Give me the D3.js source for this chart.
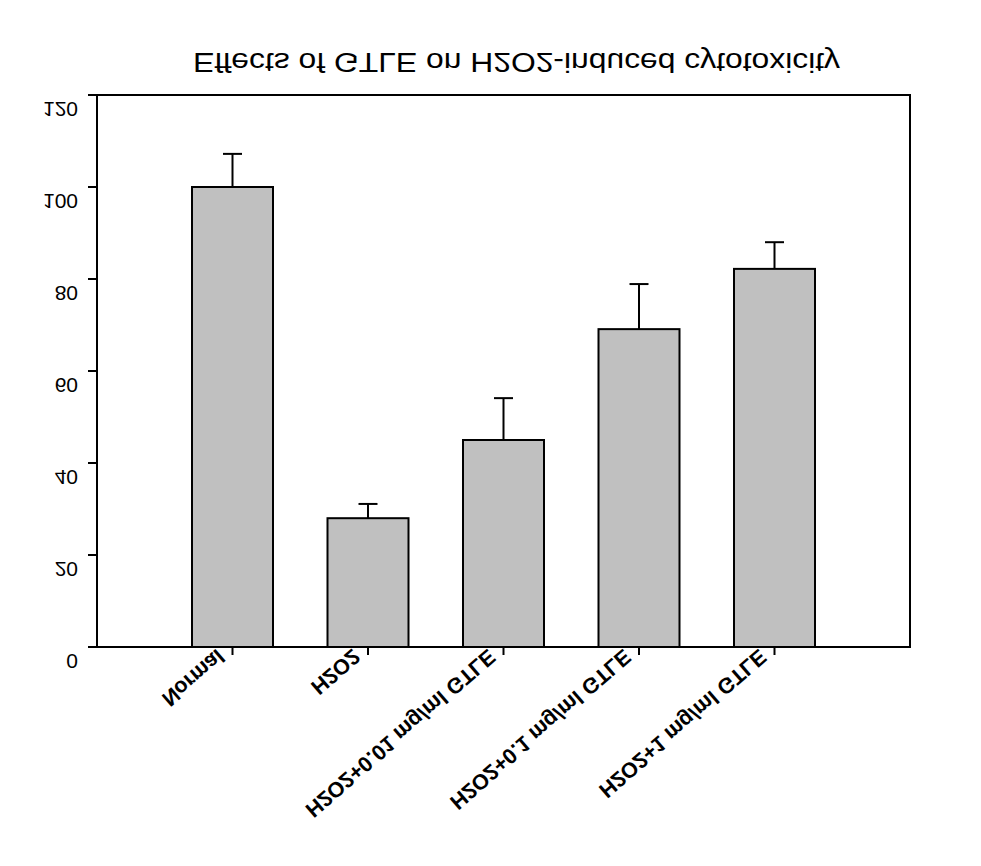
<!DOCTYPE html>
<html><head><meta charset="utf-8">
<script src="https://cdn.jsdelivr.net/npm/d3@7"></script>
<style>body{margin:0;background:#fff}</style>
</head><body>
<script>
const categories = ["Normal","H2O2","H2O2+0.01 mg/ml GTLE","H2O2+0.1 mg/ml GTLE","H2O2+1 mg/ml GTLE"];
const means = [100, 28.0, 45.0, 69.1, 82.2];
const errors = [7.2, 3.1, 9.1, 9.8, 5.8];
const yTicks = [0,20,40,60,80,100,120];
const title = "Effects of GTLE on H2O2-induced cytotoxicity";

const W=981,H=866;
const m={left:97,right:71,top:95,bottom:219};
const pw=W-m.left-m.right, ph=H-m.top-m.bottom;
const svg=d3.select("body").append("svg").attr("width",W).attr("height",H)
  .style("font-family","'Liberation Sans', Arial, sans-serif");

const y=d3.scaleLinear().domain([0,120]).range([m.top+ph,m.top]);
const x=d3.scalePoint().domain(["_a",...categories,"_b"]).range([m.left,m.left+pw]);
const bw=81;

// bars
svg.selectAll("rect.bar").data(categories).join("rect")
  .attr("x",d=>x(d)-bw/2).attr("width",bw)
  .attr("y",(d,i)=>y(means[i])).attr("height",(d,i)=>y(0)-y(means[i]))
  .attr("fill","#c0c0c0").attr("stroke","#000").attr("stroke-width",2);

// error bars
const eb=svg.append("g").attr("stroke","#000").attr("stroke-width",2);
categories.forEach((c,i)=>{
  eb.append("line").attr("x1",x(c)).attr("x2",x(c)).attr("y1",y(means[i])).attr("y2",y(means[i]+errors[i]));
  eb.append("line").attr("x1",x(c)-9.5).attr("x2",x(c)+9.5).attr("y1",y(means[i]+errors[i])).attr("y2",y(means[i]+errors[i]));
});

// frame
svg.append("rect").attr("x",m.left).attr("y",m.top).attr("width",pw).attr("height",ph)
  .attr("fill","none").attr("stroke","#000").attr("stroke-width",2);

// y ticks
const yg=svg.append("g");
yTicks.forEach(t=>{
  yg.append("line").attr("x1",m.left-9).attr("x2",m.left).attr("y1",y(t)).attr("y2",y(t)).attr("stroke","#000").attr("stroke-width",2);
  yg.append("text").attr("transform",`translate(78,${y(t)+7}) scale(1,-1)`)
    .attr("text-anchor","end").attr("font-size",21).text(t);
});

// x ticks + labels
const xg=svg.append("g");
categories.forEach(c=>{
  xg.append("line").attr("x1",x(c)).attr("x2",x(c)).attr("y1",y(0)).attr("y2",y(0)+8).attr("stroke","#000").attr("stroke-width",2);
  xg.append("text").attr("transform",`translate(${x(c)-16},${y(0)+1}) rotate(-41) scale(1,-1)`)
    .attr("text-anchor","end").attr("font-size",21.5).attr("font-weight","bold").text(c);
});

// title
svg.append("text").attr("transform",`translate(516.5,53) scale(1,-1)`)
  .attr("text-anchor","middle").attr("font-size",27)
  .attr("textLength",647).attr("lengthAdjust","spacingAndGlyphs").text(title);
</script>
</body></html>
